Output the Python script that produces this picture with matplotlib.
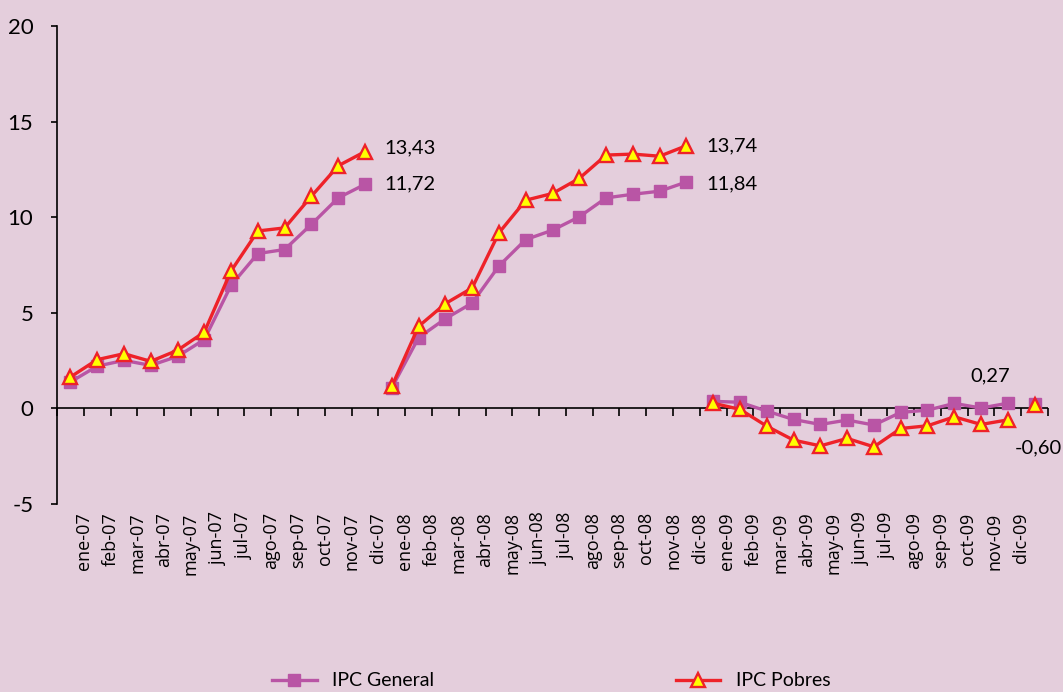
import numpy as np
import matplotlib
matplotlib.use("Agg")
import matplotlib.pyplot as plt
from matplotlib.lines import Line2D

# ---- data ----
month_labels = [
    "ene-07", "feb-07", "mar-07", "abr-07", "may-07", "jun-07", "jul-07", "ago-07",
    "sep-07", "oct-07", "nov-07", "dic-07",
    "ene-08", "feb-08", "mar-08", "abr-08", "may-08", "jun-08", "jul-08", "ago-08",
    "sep-08", "oct-08", "nov-08", "dic-08",
    "ene-09", "feb-09", "mar-09", "abr-09", "may-09", "jun-09", "jul-09", "ago-09",
    "sep-09", "oct-09", "nov-09", "dic-09",
]
ipc_general = [
    1.38, 2.21, 2.51, 2.25, 2.72, 3.60, 6.44, 8.10, 8.31, 9.63, 11.01, 11.72,
    1.08, 3.70, 4.69, 5.51, 7.45, 8.83, 9.32, 10.02, 11.01, 11.20, 11.36, 11.84,
    0.37, 0.32, -0.14, -0.58, -0.84, -0.61, -0.87, -0.21, -0.09, 0.26, 0.02, 0.27,
    0.22,
]
ipc_pobres = [
    1.64, 2.55, 2.86, 2.46, 3.04, 3.99, 7.19, 9.28, 9.44, 11.10, 12.69, 13.43,
    1.15, 4.29, 5.48, 6.30, 9.18, 10.89, 11.24, 12.03, 13.25, 13.30, 13.19, 13.74,
    0.27, -0.05, -0.93, -1.66, -1.96, -1.57, -2.01, -1.05, -0.91, -0.44, -0.84, -0.60,
    0.17,
]
segment_breaks = [0, 12, 24, 36, 37]
labeled_points = [11, 23, 35]
y_ticks = [-5, 0, 5, 10, 15, 20]

# ---- style ----
BG = "#E4CEDC"
PURPLE = "#B955A5"
RED = "#EE2229"
YELLOW = "#FFFF00"

plt.rcParams["font.family"] = ["Lato", "DejaVu Sans"]

fig = plt.figure(figsize=(10.63, 6.92), dpi=100, facecolor=BG)
ax = fig.add_axes([57 / 1063, 1 - 504 / 692, (1048 - 57) / 1063, (504 - 26) / 692])
ax.set_facecolor(BG)

x = np.arange(len(ipc_general))
gen = np.array(ipc_general)
pob = np.array(ipc_pobres)

for s, e in zip(segment_breaks[:-1], segment_breaks[1:]):
    ax.plot(x[s:e], gen[s:e], color=PURPLE, lw=2.4, marker="s", ms=8,
            mfc=PURPLE, mec=PURPLE, zorder=3)
    ax.plot(x[s:e], pob[s:e], color=RED, lw=2.4, marker="^", ms=9.5,
            mfc=YELLOW, mec=RED, mew=1.7, zorder=4)

def fmt(v):
    return f"{v:.2f}".replace(".", ",")

ann_fs = 14.5
i1, i2, i3 = labeled_points
ax.annotate(fmt(pob[i1]), (x[i1], pob[i1]), xytext=(14, 3), textcoords="offset points",
            ha="left", va="center", fontsize=ann_fs)
ax.annotate(fmt(gen[i1]), (x[i1], gen[i1]), xytext=(14, 0), textcoords="offset points",
            ha="left", va="center", fontsize=ann_fs)
ax.annotate(fmt(pob[i2]), (x[i2], pob[i2]), xytext=(14, 0), textcoords="offset points",
            ha="left", va="center", fontsize=ann_fs)
ax.annotate(fmt(gen[i2]), (x[i2], gen[i2]), xytext=(14, -1), textcoords="offset points",
            ha="left", va="center", fontsize=ann_fs)
ax.annotate(fmt(gen[i3]), (x[i3], gen[i3]), xytext=(-13, 20), textcoords="offset points",
            ha="center", va="center", fontsize=ann_fs)
ax.annotate(fmt(pob[i3]), (x[i3], pob[i3]), xytext=(5, -20), textcoords="offset points",
            ha="left", va="center", fontsize=ann_fs)

ax.set_xlim(-0.5, len(x) - 0.5)
ax.set_ylim(-5, 20)

for sp in ["top", "right", "bottom"]:
    ax.spines[sp].set_visible(False)
ax.spines["left"].set_linewidth(1.2)

ax.set_yticks(y_ticks)
ax.set_yticklabels([str(t) for t in y_ticks])
ax.tick_params(axis="y", direction="out", length=4, width=1.2, pad=13, labelsize=16)

# category labels along the bottom
ax.set_xticks(np.arange(len(month_labels)) + 0.5)
ax.set_xticklabels(month_labels, rotation=90, family=["Open Sans", "DejaVu Sans"], fontsize=13)
ax.tick_params(axis="x", length=0, pad=6)

# zero line with boundary ticks
ax.axhline(0, color="black", lw=1.2, zorder=2)
sec = ax.secondary_xaxis(5 / 25)
sec.spines["bottom"].set_visible(False)
sec.set_xticks(np.arange(len(x) + 1) - 0.5)
sec.set_xticklabels([])
sec.tick_params(axis="x", direction="out", length=6, width=1.2)

# legend
h1 = Line2D([], [], color=PURPLE, lw=2.4, marker="s", ms=8, mfc=PURPLE, mec=PURPLE)
h2 = Line2D([], [], color=RED, lw=2.4, marker="^", ms=9.5, mfc=YELLOW, mec=RED, mew=1.7)
fig.legend([h1, h2], ["IPC General", "IPC Pobres"], ncol=2, frameon=False,
           loc="center left", bbox_to_anchor=(272 / 1063, 1 - 681 / 692),
           borderpad=0, borderaxespad=0, handlelength=2.3, handletextpad=0.8,
           columnspacing=12.4, fontsize=14)

fig.savefig("out.png", dpi=100, facecolor=BG)
